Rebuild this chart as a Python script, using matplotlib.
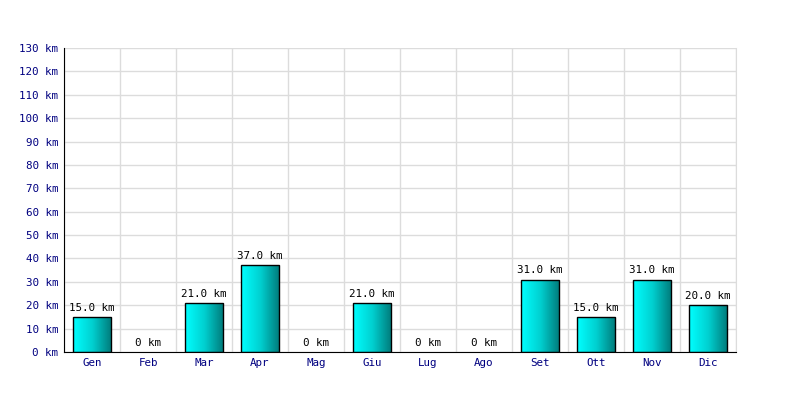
import numpy as np
import matplotlib
matplotlib.use('Agg')
import matplotlib.pyplot as plt
from matplotlib.colors import LinearSegmentedColormap

mesi = ['Gen', 'Feb', 'Mar', 'Apr', 'Mag', 'Giu', 'Lug', 'Ago', 'Set', 'Ott', 'Nov', 'Dic']
km = [15.0, 0, 21.0, 37.0, 0, 21.0, 0, 0, 31.0, 15.0, 31.0, 20.0]
yticks = np.arange(0, 131, 10)

plt.rcParams['font.family'] = 'DejaVu Sans Mono'
plt.rcParams['font.size'] = 7.8

fig = plt.figure(figsize=(8, 4), dpi=100)
ax = fig.add_axes([64/800, 48/400, 672/800, 304/400])

x = np.arange(len(mesi))
bars = ax.bar(x, km, width=0.68, color='none', edgecolor='black', linewidth=1, zorder=3)

# gradiente ciano -> verde acqua dentro ogni barra
cmap = LinearSegmentedColormap.from_list('g', ['#00ffff', '#00d0d0', '#007a7a'])
grad = np.linspace(0, 1, 100).reshape(1, -1)
for b in bars:
    if b.get_height() <= 0:
        b.set_visible(False)
        continue
    x0, w, h = b.get_x(), b.get_width(), b.get_height()
    im = ax.imshow(grad, cmap=cmap, aspect='auto', extent=(x0, x0 + w, 0, h), zorder=2)
    im.set_clip_path(b)

for xi, v in zip(x, km):
    lab = '0 km' if v == 0 else f'{v:.1f} km'
    ax.text(xi, v + 1.8, lab, ha='center', va='bottom', color='black')

ax.set_xlim(-0.5, len(mesi) - 0.5)
ax.set_ylim(0, 130)
ax.set_yticks(yticks)
ax.set_yticklabels([f'{t} km' for t in yticks], color='#000080')
ax.set_xticks(x)
ax.set_xticklabels(mesi, color='#000080')
ax.set_xticks(np.arange(-0.5, len(mesi), 1), minor=True)
ax.tick_params(axis='y', which='both', length=0, pad=4)
ax.tick_params(axis='x', which='both', length=0, pad=4)
ax.grid(True, axis='y', color='#dcdcdc', linewidth=1, zorder=0)
ax.grid(True, axis='x', which='minor', color='#dcdcdc', linewidth=1, zorder=0)
ax.set_axisbelow(True)

ax.spines['top'].set_visible(False)
ax.spines['right'].set_color('#dcdcdc')
ax.spines['left'].set_color('black')
ax.spines['bottom'].set_color('black')

fig.savefig('out.png', dpi=100)
